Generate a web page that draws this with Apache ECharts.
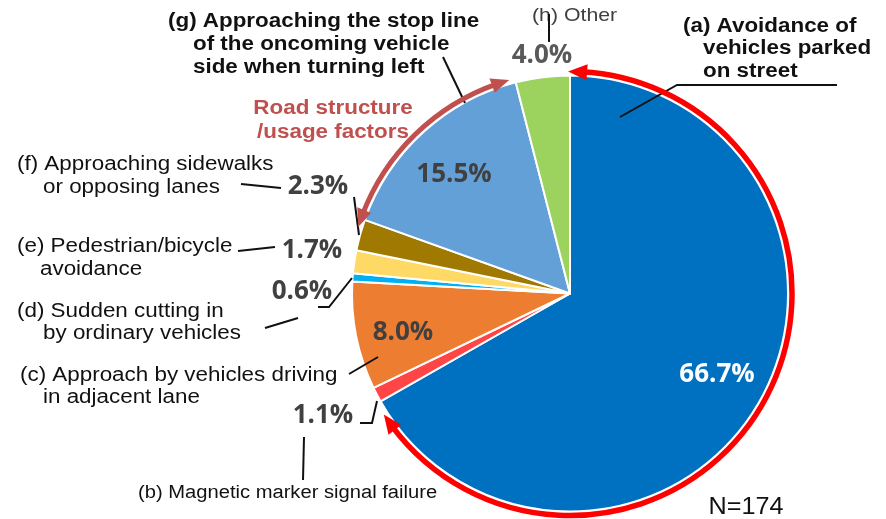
<!DOCTYPE html>
<html>
<head>
<meta charset="utf-8">
<script src="https://cdn.jsdelivr.net/npm/echarts@6/dist/echarts.min.js"></script>
<style>html,body{margin:0;padding:0;background:#fff;}#c{width:886px;height:519px;}</style>
</head>
<body>
<div id="c"></div>
<script>
// ---- data ----
const categories = [
  '(a) Avoidance of\nvehicles parked\non street',
  '(b) Magnetic marker signal failure',
  '(c) Approach by vehicles driving\nin adjacent lane',
  '(d) Sudden cutting in\nby ordinary vehicles',
  '(e) Pedestrian/bicycle\navoidance',
  '(f) Approaching sidewalks\nor opposing lanes',
  '(g) Approaching the stop line\nof the oncoming vehicle\nside when turning left',
  '(h) Other'
];
const values = [66.7, 1.1, 8.0, 0.6, 1.7, 2.3, 15.5, 4.0];
const groupLabel = 'Road structure\n/usage factors';
const sampleNote = 'N=174';

// ---- styling / layout ----
const colors = ['#0070C0', '#FF4545', '#ED7D31', '#00B0F0', '#FFD966', '#A07A00', '#64A0D8', '#9CD35E'];
const CX = 570, CY = 293.5, R = 218;
const pctPos = [[717, 375], [323, 416], [403, 333], [302, 292], [312, 251], [318, 187], [454, 175], [542, 56]];
const pctColor = ['#ffffff', '#404040', '#404040', '#404040', '#404040', '#404040', '#404040', '#595959'];
const catLayout = [
  {xs: [683, 703, 703], y: 26, lh: 22.5, bold: true, size: 20},
  {xs: [138], y: 493, lh: 22, bold: false, size: 18},
  {xs: [20, 43], y: 375, lh: 22.5, bold: false, size: 20},
  {xs: [17, 43], y: 311, lh: 22, bold: false, size: 20},
  {xs: [17, 40], y: 246, lh: 23.5, bold: false, size: 20},
  {xs: [17, 43], y: 164, lh: 23, bold: false, size: 20},
  {xs: [168, 193, 193], y: 21, lh: 23, bold: true, size: 20},
  {xs: [532], y: 16, lh: 22, bold: false, size: 19, color: '#404040'}
];
const SX = 1.12;
const leaders = [
  [[620, 117], [677, 85], [837, 85]],
  [[304, 437], [303, 480]],
  [[360, 423], [372, 423], [377, 401]],
  [[349, 374], [378, 357]],
  [[265, 328], [298, 318]],
  [[318, 307], [329, 307], [352, 278]],
  [[238, 251], [275, 247]],
  [[241, 184], [281, 188]],
  [[354, 197], [359, 235]],
  [[443, 57], [465, 103]],
  [[549, 14], [549, 42]]
];

const graphics = [];
categories.forEach((c, i) => {
  const L = catLayout[i];
  c.split('\n').forEach((line, k) => {
    graphics.push({
      type: 'text', x: L.xs[k], y: L.y + k * L.lh, scaleX: SX, z: 100,
      style: {text: line, fontFamily: 'Liberation Sans, Arial', fontSize: L.size,
        fontWeight: L.bold ? 'bold' : 'normal', fill: L.color || '#111',
        align: 'left', verticalAlign: 'middle'}
    });
  });
});
groupLabel.split('\n').forEach((line, k) => {
  graphics.push({
    type: 'text', x: 333, y: 108 + k * 24.5, scaleX: SX, z: 100,
    style: {text: line, fontFamily: 'Liberation Sans, Arial', fontSize: 20, fontWeight: 'bold',
      fill: '#C0504D', align: 'center', verticalAlign: 'middle'}
  });
});
graphics.push({
  type: 'text', x: 746, y: 507, scaleX: 1.05, z: 100,
  style: {text: sampleNote, fontFamily: 'Liberation Sans, Arial', fontSize: 24,
    fill: '#111', align: 'center', verticalAlign: 'middle'}
});
leaders.forEach(pts => graphics.push({
  type: 'polyline', z: 100, shape: {points: pts}, style: {stroke: '#111', lineWidth: 2, fill: null}
}));

function pt(r, deg) { const a = deg * Math.PI / 180; return [CX + r * Math.cos(a), CY + r * Math.sin(a)]; }
function arrowArc(r, tip1, tip2, color, lw, HL, HW) {
  const d = HL / r * 180 / Math.PI;
  graphics.push({
    type: 'arc', z: 101,
    shape: {cx: CX, cy: CY, r: r, startAngle: (tip1 + d * 0.7) * Math.PI / 180,
      endAngle: (tip2 - d * 0.7) * Math.PI / 180, clockwise: true},
    style: {stroke: color, lineWidth: lw, fill: null}
  });
  [[tip1, 1], [tip2, -1]].forEach(([t, dir]) => {
    const b = t + dir * d;
    const ba = b * Math.PI / 180;
    const bc = pt(r, b);
    graphics.push({
      type: 'polygon', z: 102,
      shape: {points: [pt(r, t),
        [bc[0] + HW / 2 * Math.cos(ba), bc[1] + HW / 2 * Math.sin(ba)],
        [bc[0] - HW / 2 * Math.cos(ba), bc[1] - HW / 2 * Math.sin(ba)]]},
      style: {fill: color}
    });
  });
}
arrowArc(222, -90.5, 147, '#FF0000', 5.5, 19, 16);
arrowArc(222, -162.6, -105.9, '#C0504D', 5, 18, 15);

const chart = echarts.init(document.getElementById('c'));
chart.setOption({
  animation: false,
  backgroundColor: '#ffffff',
  series: [{
    type: 'pie',
    center: [CX, CY],
    radius: R,
    startAngle: 90,
    clockwise: true,
    avoidLabelOverlap: false,
    silent: true,
    itemStyle: {borderColor: '#ffffff', borderWidth: 2},
    label: {
      show: true, position: 'inside',
      formatter: p => p.value.toFixed(1) + '%',
      fontFamily: 'Open Sans', fontWeight: 'bold', fontSize: 26
    },
    labelLine: {show: false},
    labelLayout: p => ({x: pctPos[p.dataIndex][0], y: pctPos[p.dataIndex][1], align: 'center', verticalAlign: 'middle'}),
    data: categories.map((c, i) => ({
      name: c, value: values[i],
      itemStyle: {color: colors[i]},
      label: {color: pctColor[i]}
    }))
  }],
  graphic: graphics
});
</script>
</body>
</html>
